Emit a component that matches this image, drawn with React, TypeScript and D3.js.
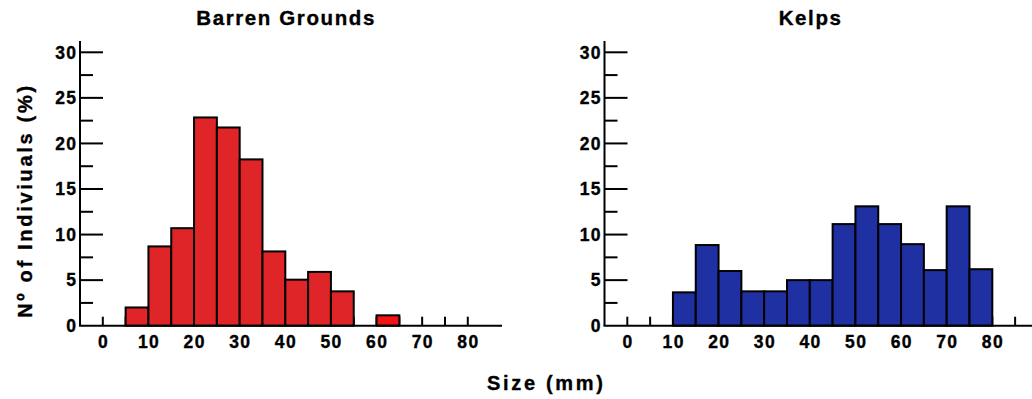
import React from "react";
import * as d3 from "d3";

// bin start (mm), each bin is 5 mm wide
const barrenBins = [5, 10, 15, 20, 25, 30, 35, 40, 45, 50, 55, 60];
const barrenValues = [2.0, 8.7, 10.7, 22.85, 21.75, 18.25, 8.15, 5.05, 5.9, 3.77, 0, 1.14];

const kelpBins = [10, 15, 20, 25, 30, 35, 40, 45, 50, 55, 60, 65, 70, 75];
const kelpValues = [3.66, 8.85, 6.0, 3.77, 3.77, 5.0, 5.0, 11.15, 13.1, 11.15, 8.95, 6.1, 13.1, 6.2];

const yMajor = [0, 5, 10, 15, 20, 25, 30];
const yMinor = [2.5, 7.5, 12.5, 17.5, 22.5, 27.5];
const xLabels = [0, 10, 20, 30, 40, 50, 60, 70, 80];

const FONT = "'Liberation Sans', Arial, sans-serif";
const BIN = 5;
const TICK_LS = 1.4;

const textStyle = {
  fontFamily: FONT,
  fontWeight: "bold" as const,
  stroke: "#000",
  strokeWidth: 0.35,
};

interface PanelProps {
  title: string;
  bins: number[];
  values: number[];
  color: string;
  lastColor?: string;
  left: number;
  right: number;
  domainMax: number;
  tickMax: number;
}

const Panel: React.FC<PanelProps> = ({ title, bins, values, color, lastColor, left, right, domainMax, tickMax }) => {
  const x = d3.scaleLinear().domain([-5, domainMax]).range([left, right]);
  const y = d3.scaleLinear().domain([0, 30]).range([325.7, 52.3]);
  const xTicks = d3.range(0, tickMax + 1, 5);

  return (
    <g>
      <text
        x={(x(0) + x(80)) / 2 + 0.8}
        y={25}
        textAnchor="middle"
        fontSize={20.5}
        letterSpacing={1.6}
        {...textStyle}
      >
        {title}
      </text>
      {/* x ticks (inward) */}
      {xTicks.map((t) => (
        <line key={`xt${t}`} x1={x(t)} x2={x(t)} y1={y(0)} y2={y(0) - 9} stroke="#000" strokeWidth={2} />
      ))}
      {/* bars */}
      {bins.map((b, i) =>
        values[i] > 0 ? (
          <rect
            key={`b${b}`}
            x={x(b)}
            y={y(values[i])}
            width={x(b + BIN) - x(b)}
            height={y(0) - y(values[i])}
            fill={lastColor && i === bins.length - 1 ? lastColor : color}
            stroke="#000"
            strokeWidth={2}
          />
        ) : null
      )}
      {/* y axis */}
      <line x1={left} x2={left} y1={41} y2={y(0)} stroke="#000" strokeWidth={2} />
      {yMajor.slice(1).map((t) => (
        <line key={`ym${t}`} x1={left} x2={left + 23} y1={y(t)} y2={y(t)} stroke="#000" strokeWidth={2} />
      ))}
      {yMinor.map((t) => (
        <line key={`yn${t}`} x1={left} x2={left + 13} y1={y(t)} y2={y(t)} stroke="#000" strokeWidth={2} />
      ))}
      {yMajor.map((t) => (
        <text
          key={`yl${t}`}
          x={left - 4 + TICK_LS}
          y={y(t) + 6.3}
          textAnchor="end"
          fontSize={17.5}
          letterSpacing={TICK_LS}
          {...textStyle}
        >
          {t}
        </text>
      ))}
      {/* x axis */}
      <line x1={left - 1} x2={right} y1={y(0)} y2={y(0)} stroke="#000" strokeWidth={2} />
      {xLabels.map((t) => (
        <text
          key={`xl${t}`}
          x={x(t) + TICK_LS / 2}
          y={348}
          textAnchor="middle"
          fontSize={17.5}
          letterSpacing={TICK_LS}
          {...textStyle}
        >
          {t}
        </text>
      ))}
    </g>
  );
};

export default function App() {
  return (
    <svg
      width={1032}
      height={399}
      style={{ position: "absolute", left: 0, top: 0, background: "#fff" }}
    >
      <Panel
        title="Barren Grounds"
        bins={barrenBins}
        values={barrenValues}
        color="#e02528"
        lastColor="#f21414"
        left={80}
        right={502}
        domainMax={87.5}
        tickMax={80}
      />
      <Panel
        title="Kelps"
        bins={kelpBins}
        values={kelpValues}
        color="#1f30a3"
        left={604.5}
        right={1032}
        domainMax={88.7}
        tickMax={85}
      />
      <text
        x={25}
        y={200.5}
        transform="rotate(-90 25 200.5)"
        textAnchor="middle"
        dominantBaseline="central"
        fontSize={20}
        letterSpacing={2.7}
        {...textStyle}
      >
        Nº of Indiviuals (%)
      </text>
      <text
        x={546.3}
        y={389.5}
        textAnchor="middle"
        fontSize={20}
        letterSpacing={2.7}
        {...textStyle}
      >
        Size (mm)
      </text>
    </svg>
  );
}
